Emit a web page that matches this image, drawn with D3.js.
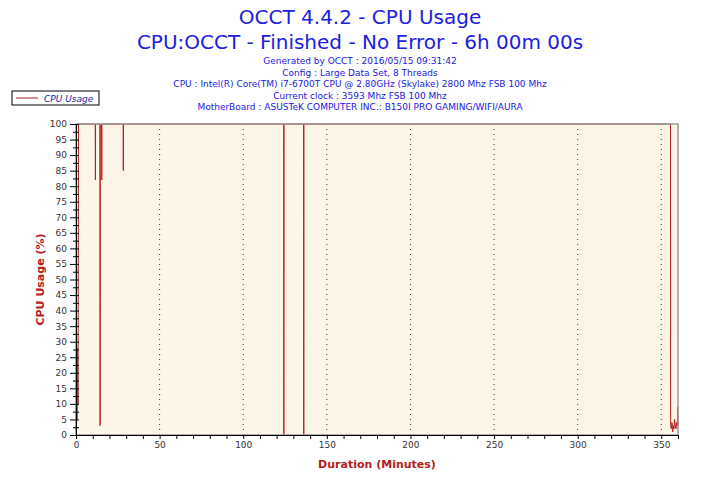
<!DOCTYPE html>
<html><head><meta charset="utf-8">
<script src="https://cdn.jsdelivr.net/npm/d3@7"></script>
<style>body{margin:0;background:#fff}text{font-family:Verdana,"DejaVu Sans",sans-serif}</style>
</head><body>
<svg id="chart" width="720" height="480"></svg>
<script>
const titleLines = ["OCCT 4.4.2 - CPU Usage", "CPU:OCCT - Finished - No Error - 6h 00m 00s"];
const infoLines = [
  "Generated by OCCT : 2016/05/15 09:31:42",
  "Config : Large Data Set, 8 Threads",
  "CPU : Intel(R) Core(TM) i7-6700T CPU @ 2.80GHz (Skylake) 2800 Mhz FSB 100 Mhz",
  "Current clock : 3593 Mhz FSB 100 Mhz",
  "MotherBoard : ASUSTeK COMPUTER INC.: B150I PRO GAMING/WIFI/AURA"
];
// minutes, usage %
const minutes = [0,0.3,0.6,0.9,1.2,1.5,2,11.5,11.6,11.7,14.3,14.4,14.5,15.3,15.4,15.5,28.2,28.3,28.4,124.2,124.3,124.4,136.1,136.2,136.3,355.5,355.6,356,356.4,356.8,357.2,357.6,358,358.4,358.8,359.2,359.6,359.8,360];
const usage   = [0,33,5,28,10,100,100,100,82,100,100,3,100,100,82,100,100,85,100,100,0,100,100,0,100,100,3,2,4,1,3,2,5,3,2,4,3,9,3];
const xTicks = [0,50,100,150,200,250,300,350];
const yTicks = d3.range(0,101,5);

const svg = d3.select("#chart");
const m = {l:76, r:678, t:124, b:435};
const x = d3.scaleLinear().domain([0,360]).range([m.l,m.r]);
const y = d3.scaleLinear().domain([0,100]).range([m.b,m.t]);

svg.selectAll(".title").data(titleLines).join("text")
  .attr("x",360).attr("y",(d,i)=>24+i*25).attr("text-anchor","middle")
  .attr("font-size",20).attr("fill","#2020e0").text(d=>d);
svg.selectAll(".info").data(infoLines).join("text")
  .attr("x",360).attr("y",(d,i)=>64+i*11.5).attr("text-anchor","middle")
  .attr("font-size",9).attr("fill","#2020e0").text(d=>d);

svg.append("rect").attr("x",m.l).attr("y",m.t).attr("width",m.r-m.l).attr("height",m.b-m.t)
  .attr("fill","#fdf6e8");
svg.selectAll(".vg").data(xTicks.slice(1)).join("line")
  .attr("x1",d=>x(d)).attr("x2",d=>x(d)).attr("y1",m.t).attr("y2",m.b)
  .attr("stroke","#333").attr("stroke-dasharray","1,4");

svg.append("path").datum(minutes.map((t,i)=>[t,usage[i]]))
  .attr("fill","none").attr("stroke","#b22020").attr("stroke-width",1)
  .attr("d",d3.line().x(d=>x(d[0])).y(d=>y(d[1])));

svg.append("rect").attr("x",m.l).attr("y",m.t).attr("width",m.r-m.l).attr("height",m.b-m.t)
  .attr("fill","none").attr("stroke","#999").attr("stroke-width",1.5);

svg.append("g").attr("transform",`translate(0,${m.b})`)
  .call(d3.axisBottom(x).tickValues(d3.range(0,361,10)).tickSize(4)
    .tickFormat(d=>xTicks.includes(d)?d:""))
  .call(g=>g.selectAll("text").attr("font-size",9).attr("fill","#333"));
svg.append("g").attr("transform",`translate(${m.l},0)`)
  .call(d3.axisLeft(y).tickValues(d3.range(0,101,2.5)).tickSize(4)
    .tickFormat(d=>yTicks.includes(d)?d:""))
  .call(g=>g.selectAll(".tick line").attr("x1",d=>d%5===0?-6:-3).attr("x2",3))
  .call(g=>g.selectAll("text").attr("font-size",9).attr("fill","#333").attr("x",-9));
svg.selectAll(".domain").attr("stroke","#000");

svg.append("text").attr("x",(m.l+m.r)/2).attr("y",468).attr("text-anchor","middle")
  .attr("font-size",11).attr("font-weight","bold").attr("fill","#b22020").text("Duration (Minutes)");
svg.append("text").attr("transform",`translate(44,${(m.t+m.b)/2}) rotate(-90)`).attr("text-anchor","middle")
  .attr("font-size",11).attr("font-weight","bold").attr("fill","#b22020").text("CPU Usage (%)");

const lg = svg.append("g");
lg.append("rect").attr("x",12).attr("y",91).attr("width",87).attr("height",14).attr("fill","#fff").attr("stroke","#000");
lg.append("line").attr("x1",16).attr("x2",38).attr("y1",98).attr("y2",98).attr("stroke","#b22020");
lg.append("text").attr("x",44).attr("y",102).attr("font-size",9).attr("font-style","italic").attr("fill","#2020a0").text("CPU Usage");
</script>
</body></html>
